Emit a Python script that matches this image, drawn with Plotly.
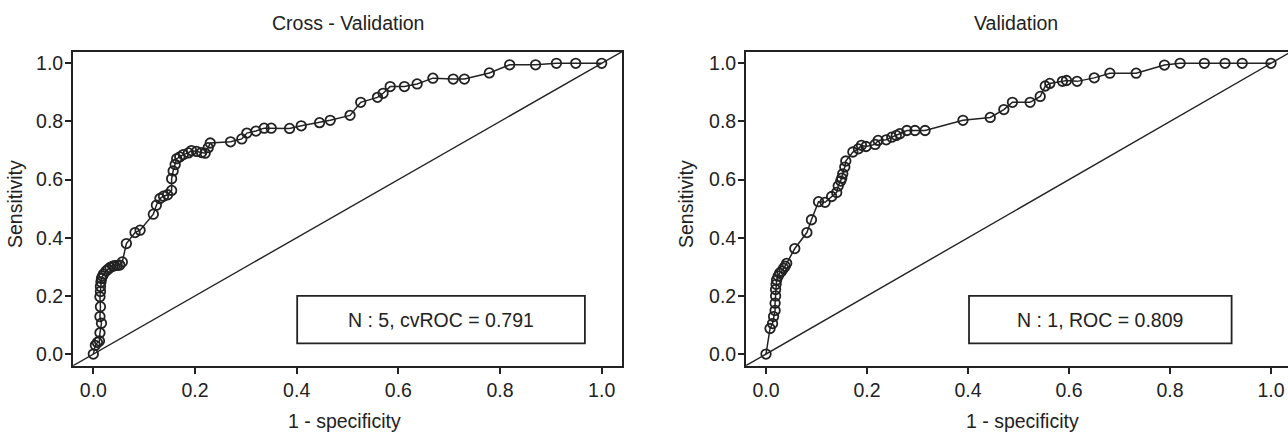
import plotly.graph_objects as go

# ---------------- data ----------------
cv_fpr = [0.000, 0.004, 0.008, 0.012, 0.013, 0.016, 0.013, 0.014, 0.013, 0.014, 0.014,
          0.015, 0.016, 0.018, 0.020, 0.025, 0.029, 0.033, 0.038, 0.042, 0.047, 0.052,
          0.057, 0.065, 0.082, 0.092, 0.118, 0.124, 0.131, 0.138, 0.146, 0.154, 0.154,
          0.157, 0.161, 0.164, 0.170, 0.177, 0.187, 0.193, 0.203, 0.213, 0.220, 0.226,
          0.230, 0.270, 0.292, 0.302, 0.320, 0.336, 0.350, 0.386, 0.409, 0.445, 0.466,
          0.505, 0.526, 0.559, 0.570, 0.584, 0.612, 0.637, 0.668, 0.708, 0.730, 0.779,
          0.819, 0.870, 0.911, 0.949, 1.000]
cv_tpr = [0.000, 0.030, 0.040, 0.045, 0.073, 0.106, 0.129, 0.163, 0.197, 0.215, 0.232,
          0.248, 0.260, 0.268, 0.275, 0.286, 0.292, 0.298, 0.302, 0.304, 0.305, 0.306,
          0.317, 0.380, 0.418, 0.426, 0.481, 0.512, 0.535, 0.543, 0.548, 0.563, 0.603,
          0.630, 0.652, 0.672, 0.678, 0.686, 0.692, 0.700, 0.697, 0.693, 0.691, 0.710,
          0.726, 0.730, 0.740, 0.760, 0.767, 0.777, 0.777, 0.776, 0.785, 0.796, 0.804,
          0.821, 0.866, 0.883, 0.897, 0.920, 0.920, 0.929, 0.949, 0.946, 0.946, 0.967,
          0.995, 0.995, 1.000, 1.000, 1.000]

val_fpr = [0.000, 0.008, 0.013, 0.015, 0.018, 0.018, 0.019, 0.019, 0.020, 0.021, 0.024,
           0.027, 0.031, 0.035, 0.038, 0.041, 0.057, 0.081, 0.090, 0.104, 0.117, 0.130,
           0.140, 0.143, 0.148, 0.150, 0.152, 0.156, 0.158, 0.172, 0.183, 0.189, 0.198,
           0.216, 0.222, 0.238, 0.249, 0.258, 0.265, 0.279, 0.295, 0.315, 0.390, 0.444,
           0.471, 0.488, 0.523, 0.543, 0.553, 0.562, 0.587, 0.595, 0.616, 0.650, 0.681,
           0.733, 0.789, 0.820, 0.868, 0.909, 0.943, 1.000]
val_tpr = [0.000, 0.088, 0.105, 0.129, 0.150, 0.175, 0.200, 0.222, 0.240, 0.255, 0.268,
           0.278, 0.285, 0.295, 0.302, 0.312, 0.363, 0.418, 0.462, 0.524, 0.522, 0.542,
           0.556, 0.578, 0.595, 0.605, 0.620, 0.643, 0.664, 0.695, 0.706, 0.718, 0.714,
           0.721, 0.735, 0.737, 0.746, 0.752, 0.758, 0.769, 0.769, 0.769, 0.804, 0.814,
           0.841, 0.866, 0.866, 0.886, 0.922, 0.931, 0.938, 0.941, 0.938, 0.950, 0.966,
           0.966, 0.994, 1.000, 1.000, 1.000, 1.000, 1.000]

panel_titles = ["Cross - Validation", "Validation"]
box_labels = ["N : 5, cvROC = 0.791", "N : 1, ROC = 0.809"]
x_label = "1 - specificity"
y_label = "Sensitivity"
tick_vals = [0.0, 0.2, 0.4, 0.6, 0.8, 1.0]
tick_text = ["0.0", "0.2", "0.4", "0.6", "0.8", "1.0"]
diag = [-0.05, 1.05]

# ---------------- figure ----------------
W, H = 1288, 434
FONT = "Liberation Sans, Arial, sans-serif"
FS = 19.5
INK = "#222222"

fig = go.Figure()

curves = [(cv_fpr, cv_tpr, "x", "y"), (val_fpr, val_tpr, "x2", "y2")]
for fx, fy, xa, ya in curves:
    fig.add_trace(go.Scatter(x=diag, y=diag, mode="lines", xaxis=xa, yaxis=ya,
                             line=dict(color=INK, width=1.4), showlegend=False,
                             hoverinfo="skip"))
    fig.add_trace(go.Scatter(x=fx, y=fy, mode="lines+markers", xaxis=xa, yaxis=ya,
                             line=dict(color=INK, width=1.5),
                             marker=dict(symbol="circle-open", size=9.5,
                                         line=dict(color=INK, width=1.8)),
                             showlegend=False))

ydom = [1 - 365.7 / H, 1 - 51.7 / H]
x1dom = [73 / W, 622 / W]
x2dom = [746 / W, 1.0]
x2_right = (1288 - 766) / 505.0

common_axis = dict(
    showgrid=False, zeroline=False, showline=True, linecolor=INK, linewidth=1.8,
    ticks="outside", ticklen=6, tickwidth=1.5, tickcolor=INK,
    tickvals=tick_vals, ticktext=tick_text,
    tickfont=dict(family=FONT, size=FS, color=INK),
)

fig.update_layout(
    width=W, height=H,
    margin=dict(l=0, r=0, t=0, b=0),
    paper_bgcolor="white", plot_bgcolor="white",
    font=dict(family=FONT, size=FS, color=INK),
    xaxis=dict(domain=x1dom, range=[-0.04, 1.04], anchor="y", mirror=True, **common_axis),
    yaxis=dict(domain=ydom, range=[-0.04, 1.04], anchor="x", mirror=True,
               ticklabelstandoff=-2, **common_axis),
    xaxis2=dict(domain=x2dom, range=[-0.0396, x2_right], anchor="y2", mirror=True, **common_axis),
    yaxis2=dict(domain=ydom, range=[-0.04, 1.04], anchor="x2", mirror=False,
                ticklabelstandoff=-2, **common_axis),
)

# legend-like boxes
boxes = [("x", "y", 0.401, 0.967, 0.683), ("x2", "y2", 0.402, 0.922, 0.662)]
for (xa, ya, bx0, bx1, tx), lab in zip(boxes, box_labels):
    fig.add_shape(type="rect", xref=xa, yref=ya, x0=bx0, x1=bx1, y0=0.037, y1=0.200,
                  line=dict(color=INK, width=1.8), fillcolor="white", layer="above")
    fig.add_annotation(xref=xa, yref=ya, x=tx, y=0.1185, text=lab, showarrow=False,
                       font=dict(family=FONT, size=FS, color=INK),
                       xanchor="center", yanchor="middle")

# titles and axis labels
for cx, title in zip([347.5 / W, 1016 / W], panel_titles):
    fig.add_annotation(xref="paper", yref="paper", x=cx, y=1 - 23 / H, text=title,
                       showarrow=False, xanchor="center", yanchor="middle",
                       font=dict(family=FONT, size=FS, color=INK))
for cx in [344 / W, 1022 / W]:
    fig.add_annotation(xref="paper", yref="paper", x=cx, y=1 - 421 / H, text=x_label,
                       showarrow=False, xanchor="center", yanchor="middle",
                       font=dict(family=FONT, size=FS, color=INK))
for cx in [15 / W, 686 / W]:
    fig.add_annotation(xref="paper", yref="paper", x=cx, y=1 - 204 / H, text=y_label,
                       showarrow=False, xanchor="center", yanchor="middle", textangle=-90,
                       font=dict(family=FONT, size=FS, color=INK))

fig.write_html("out.html", config={"displayModeBar": False},
               post_script="document.body.style.margin='0';document.body.style.overflow='hidden';")
